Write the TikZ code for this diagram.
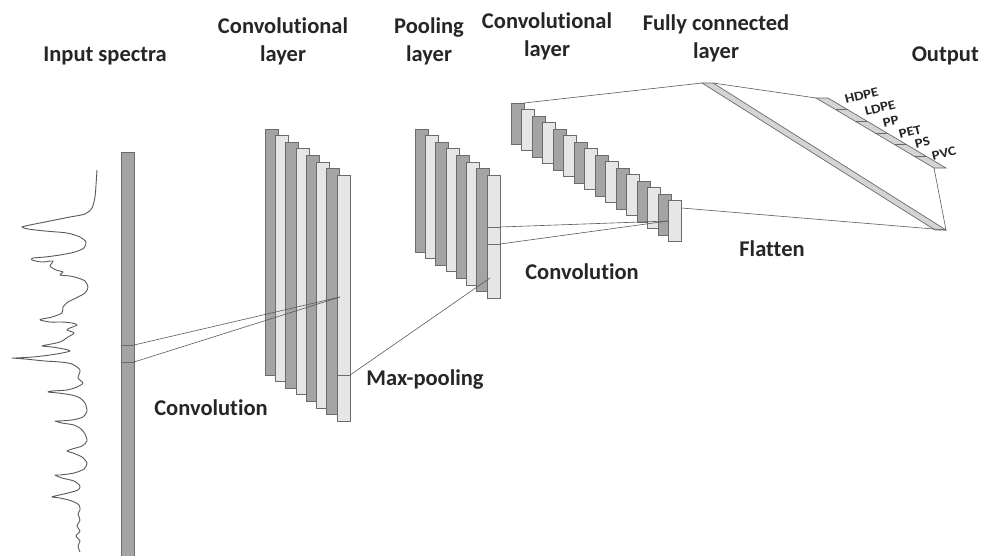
\documentclass[tikz,border=0pt]{standalone}
\usepackage{fontspec}
\setmainfont{Carlito}[Ligatures=CommonOff]
\usetikzlibrary{calc}
\definecolor{txt}{HTML}{262626}
\definecolor{bard}{HTML}{A4A4A4}
\definecolor{barl}{HTML}{E6E6E6}
\definecolor{edge}{HTML}{6B6B6B}
\definecolor{lin}{HTML}{5A5A5A}
\definecolor{fcfill}{HTML}{D4D4D4}
\begin{document}
\begin{tikzpicture}[x=1pt,y=-1pt,
  lbl/.style={font=\fontsize{22.5}{28}\selectfont\bfseries, text=txt, align=center, inner sep=0pt},
  barbox/.style={draw=edge, line width=0.7pt, inner sep=0pt, outer sep=0pt, minimum width=13pt, anchor=north west},
  conn/.style={draw=lin, line width=0.6pt},
  tickline/.style={draw=edge, line width=0.9pt},
  outlbl/.style={font=\fontsize{13}{13}\selectfont\bfseries, text=txt, inner sep=0pt, rotate=14, anchor=south west}]
\useasboundingbox (0,0) rectangle (981,555);
\fill[white] (0,0) rectangle (981,555);

% spectrum
\draw[lin, line width=0.9pt, line join=round] plot[smooth, tension=0.45] coordinates {
(97,170) (96,185) (95,197) (92,208) (85,214) (70,217) (50,221) (30,225) (22,227) (28,229) (45,231) (67,233) (80,237) (86,242) (84,248) (75,252) (60,255) (45,257) (33,258) (32,260) (42,262) (53,261) (50,266) (56,270) (63,272) (60,275) (70,276) (78,278) (85,281) (88,287) (85,293) (76,298) (68,302) (63,307) (62,313) (52,317) (42,319) (40,320) (50,322) (62,322) (72,323) (77,325) (70,328) (67,330) (74,333) (68,337) (60,342) (46,345) (42,346) (52,347) (64,349) (70,351) (62,353) (50,355) (33,357) (15,358) (12,358) (25,359) (45,361) (60,362) (72,364) (80,370) (78,378) (83,383) (77,387) (67,390) (52,391) (48,392) (58,393) (72,395) (80,398) (85,403) (87,411) (83,417) (72,420) (58,421) (55,421) (62,423) (74,425) (81,429) (85,434) (87,441) (82,446) (72,449) (67,451) (73,453) (82,457) (87,463) (84,469) (74,473) (60,475) (55,475) (62,478) (74,481) (80,486) (78,490) (68,493) (55,496) (52,497) (60,498) (72,501) (79,505) (80,510) (78,514) (80,520) (77,526) (80,531) (76,536) (80,541) (78,546) (80,552)};

% input bar
\node[barbox, fill=bard, minimum height=420pt] (inp) at (121,152) {};
\coordinate (sqa) at (inp.east |- 0,345);
\coordinate (sqb) at (inp.east |- 0,362);
\draw[tickline] (inp.west |- 0,345) -- (sqa);
\draw[tickline] (inp.west |- 0,362) -- (sqb);

% first convolutional layer
\foreach \i in {0,...,7}{
  \ifodd\i\def\fc{barl}\else\def\fc{bard}\fi
  \node[barbox, fill=\fc, minimum height=246pt] (ca\i) at ({265+10.3*\i},{129+6.6*\i}) {};
}
\coordinate (cat) at (340,297);
\draw[conn] (sqa) -- (cat);
\draw[conn] (sqb) -- (cat);
\coordinate (cam) at (ca7.east |- 0,375);
\draw[tickline] (ca7.west |- 0,375) -- (cam);

% pooling layer
\foreach \i in {0,...,7}{
  \ifodd\i\def\fc{barl}\else\def\fc{bard}\fi
  \node[barbox, fill=\fc, minimum height=123pt] (pb\i) at ({415+10.3*\i},{129+6.6*\i}) {};
}
\coordinate (pbt) at (490,278);
\draw[conn] (cam) -- (pbt);
\coordinate (pqa) at (pb7.east |- 0,227);
\coordinate (pqb) at (pb7.east |- 0,244);
\draw[tickline] (pb7.west |- 0,227) -- (pqa);
\draw[tickline] (pb7.west |- 0,244) -- (pqb);

% second convolutional layer
\foreach \i in {0,...,15}{
  \ifodd\i\def\fc{barl}\else\def\fc{bard}\fi
  \node[barbox, fill=\fc, minimum height=41pt] (cb\i) at ({511+10.5*\i},{103+6.5*\i}) {};
}
\coordinate (cbt) at (668,221);
\draw[conn] (pqa) -- (cbt);
\draw[conn] (pqb) -- (cbt);
\coordinate (cbf) at (cb15.east |- 0,208);

% fully connected layer
\coordinate (fa) at (702,83);
\coordinate (fb) at (713,83);
\coordinate (fc) at (946,230);
\coordinate (fd) at (935,230);
\filldraw[fill=fcfill, draw=edge, line width=0.7pt] (fa) -- (fb) -- (fc) -- (fd) -- cycle;

% output layer
\coordinate (oa) at (816,98);
\coordinate (ob) at (828,98);
\coordinate (oc) at (946,168);
\coordinate (od) at (934,168);
\filldraw[fill=fcfill, draw=edge, line width=0.7pt] (oa) -- (ob) -- (oc) -- (od) -- cycle;
\foreach \k in {1,...,5}{
  \draw[edge, line width=0.7pt] ($(oa)!\k/6!(od)$) -- ($(ob)!\k/6!(oc)$);
}

% connectors
\draw[conn] (cb0.north east) -- (fa);
\draw[conn] (fb) -- (oa);
\draw[conn] (od) -- (fc);
\draw[conn] (cbf) -- (fc);

% output labels
\node[outlbl] (o1) at (846,104) {\scalebox{1.15}[1]{HDPE}};
\node[outlbl] (o2) at (866,116) {\scalebox{1.15}[1]{LDPE}};
\node[outlbl] (o3) at (884,128) {\scalebox{1.15}[1]{PP}};
\node[outlbl] (o4) at (900,139) {\scalebox{1.15}[1]{PET}};
\node[outlbl] (o5) at (916,149) {\scalebox{1.15}[1]{PS}};
\node[outlbl] (o6) at (933,161) {\scalebox{1.15}[1]{PVC}};

% titles
\node[lbl] (t1) at (105,56) {Input spectra};
\node[lbl] (t2) at (283,41) {Convolutional\\layer};
\node[lbl] (t3) at (429,41) {Pooling\\layer};
\node[lbl] (t4) at (547,36) {Convolutional\\layer};
\node[lbl] (t5) at (716,38) {Fully connected\\layer};
\node[lbl, anchor=east] (t6) at (979,56) {Output};
\node[lbl] (t7) at (211,408) {Convolution};
\node[lbl] (t8) at (425,380) {Max-pooling};
\node[lbl] (t9) at (582,272) {Convolution};
\node[lbl] (t10) at (772,249) {Flatten};
\end{tikzpicture}
\end{document}
